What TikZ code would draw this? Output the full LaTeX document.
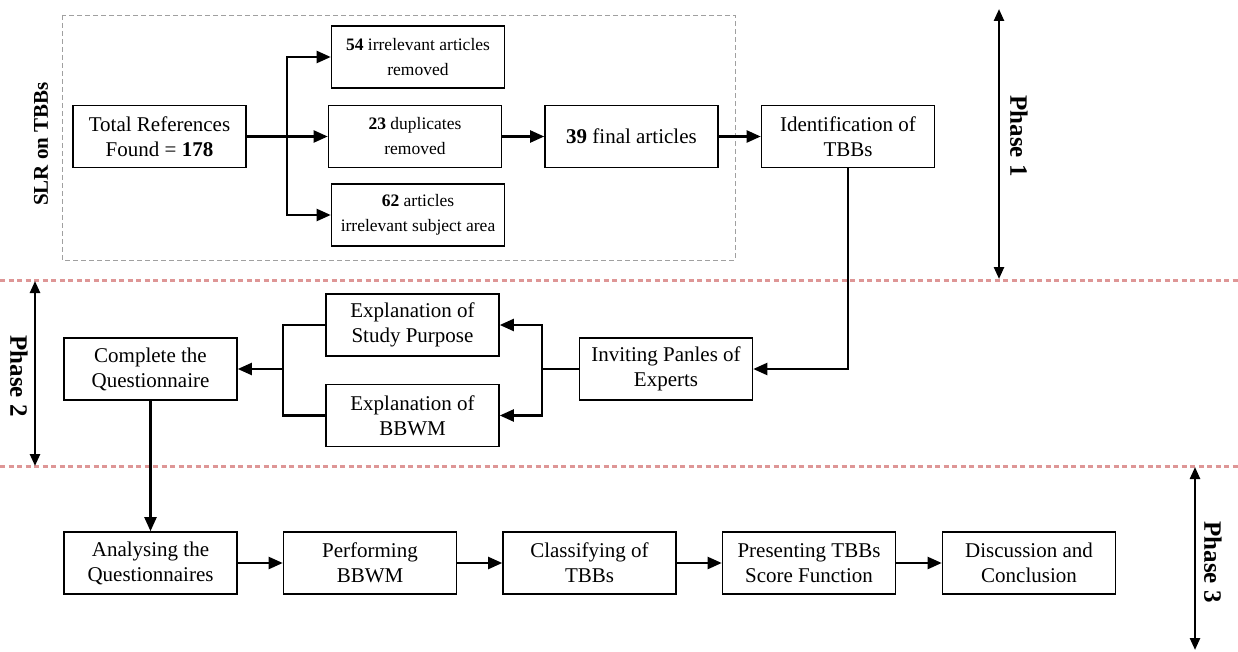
\documentclass[tikz,border=0pt]{standalone}
\usepackage{fontspec}
\setmainfont{Liberation Serif}
\usetikzlibrary{arrows.meta}
\definecolor{phaseline}{RGB}{222,150,150}
\definecolor{slrgray}{RGB}{160,160,160}
\tikzset{
  box/.style={draw=black, line width=1.6pt, minimum width=173pt, minimum height=62pt,
    align=center, inner sep=1pt, font=\fontsize{21}{25}\selectfont},
  smallbox/.style={box, font=\fontsize{17.5}{25}\selectfont},
  link/.style={line width=2.2pt},
  arr/.style={link, -{Triangle[length=14pt,width=12pt]}},
  phasearr/.style={line width=2.4pt, {Triangle[length=12pt,width=10pt]}-{Triangle[length=12pt,width=10pt]}},
  phaselabel/.style={font=\fontsize{25}{28}\selectfont\bfseries, rotate=-90},
  sep/.style={phaseline, line width=3pt, dash pattern=on 5pt off 3.5pt},
}
\begin{document}
\begin{tikzpicture}[x=1pt, y=-1pt]
\useasboundingbox (0,0) rectangle (1238,652);

% phase separators
\draw[sep] (0,280) -- (1238,280);
\draw[sep] (0,466) -- (1238,466);

% SLR frame
\draw[slrgray, line width=0.8pt, dash pattern=on 5pt off 3pt] (62,15) rectangle (735,260);
\node[font=\fontsize{21}{24}\selectfont\bfseries, rotate=90] (slr) at (41,144) {SLR on TBBs};

% phase 1 boxes
\node[box] (tot) at (159.5,136.5) {Total References\\Found = \textbf{178}};
\node[smallbox] (r54) at (418,57) {\textbf{54} irrelevant articles\\removed};
\node[smallbox] (r23) at (415,136.5) {\textbf{23} duplicates\\removed};
\node[smallbox] (r62) at (418,215) {\textbf{62} articles\\irrelevant subject area};
\node[box] (fin) at (631.5,136.5) {\textbf{39} final articles};
\node[box] (idt) at (848,136.5) {Identification of\\TBBs};

% phase 2 boxes
\node[box] (inv) at (666,369) {Inviting Panles of\\Experts};
\node[box] (sp) at (412.5,325) {Explanation of\\Study Purpose};
\node[box] (bw) at (412.5,415.5) {Explanation of\\BBWM};
\node[box] (cq) at (150.5,369) {Complete the\\Questionnaire};

% phase 3 boxes
\node[box] (an) at (150.5,563) {Analysing the\\Questionnaires};
\node[box] (pf) at (370,563) {Performing\\BBWM};
\node[box] (cl) at (589.5,563) {Classifying of\\TBBs};
\node[box] (pr) at (809,563) {Presenting TBBs\\Score Function};
\node[box] (dc) at (1029,563) {Discussion and\\Conclusion};

% junctions
\coordinate (j1) at (287,136.5);
\coordinate (j2) at (542,369);
\coordinate (j3) at (283,369);

% phase 1 connectors
\draw[arr] (tot.east) -- (r23.west);
\draw[arr] (j1) |- (r54.west);
\draw[arr] (j1) |- (r62.west);
\draw[arr] (r23.east) -- (fin.west);
\draw[arr] (fin.east) -- (idt.west);
\draw[arr] (idt.south) |- (inv.east);

% phase 2 connectors
\draw[link] (inv.west) -- (j2);
\draw[arr] (j2) |- (sp.east);
\draw[arr] (j2) |- (bw.east);
\draw[link] (sp.west) -| (j3) |- (bw.west);
\draw[arr] (j3) -- (cq.east);
\draw[arr] (cq.south) -- (an.north);

% phase 3 connectors
\draw[arr] (an.east) -- (pf.west);
\draw[arr] (pf.east) -- (cl.west);
\draw[arr] (cl.east) -- (pr.west);
\draw[arr] (pr.east) -- (dc.west);

% phase markers
\coordinate (p1t) at (999,9);
\coordinate (p1b) at (999,279);
\draw[phasearr] (p1t) -- (p1b);
\node[phaselabel] (ph1) at (1019,136) {Phase 1};

\coordinate (p2t) at (35,281);
\coordinate (p2b) at (35,466);
\draw[phasearr] (p2t) -- (p2b);
\node[phaselabel] (ph2) at (19,376) {Phase 2};

\coordinate (p3t) at (1195,467);
\coordinate (p3b) at (1195,650);
\draw[phasearr] (p3t) -- (p3b);
\node[phaselabel] (ph3) at (1213,562) {Phase 3};
\end{tikzpicture}
\end{document}
